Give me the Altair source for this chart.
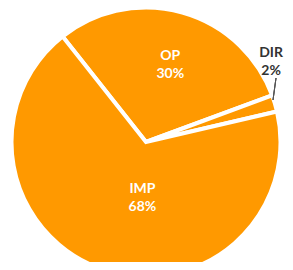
import math
import altair as alt
import pandas as pd

categories = ["OP", "DIR", "IMP"]
shares = [30, 2, 68]
order = [0, 1, 2]

df = pd.DataFrame({"cat": categories, "share": shares, "order": order})

start = math.radians(-38.3)
theta_scale = alt.Scale(domain=[0, 100], range=[start, start + 2 * math.pi])

CX, CY = 138, 134
ORANGE = "#FF9900"
FONT = "Lato"

base = alt.Chart(df).transform_calculate(
    label="datum.cat + '\\n' + datum.share + '%'"
)

arcs = base.mark_arc(radius=134.5, stroke="white", strokeWidth=4, color=ORANGE).encode(
    theta=alt.Theta("share:Q", stack=True, scale=theta_scale),
    order=alt.Order("order:Q"),
    x=alt.value(CX), y=alt.value(CY)
)


def label_layer(cat, radius, dx, dy, color):
    return base.transform_stack(
        stack="share", groupby=[], as_=["s0", "s1"], sort=[alt.SortField("order")]
    ).transform_calculate(
        mid="(datum.s0 + datum.s1) / 2"
    ).transform_filter(alt.datum.cat == cat).mark_text(
        radius=radius, dx=dx, dy=dy, font=FONT, fontWeight="bold", fontSize=14,
        lineBreak="\n", lineHeight=18, align="center", baseline="middle", color=color
    ).encode(theta=alt.Theta("mid:Q", stack=None, scale=theta_scale), text="label:N",
             x=alt.value(CX), y=alt.value(CY))


t_op = label_layer("OP", 86, 1, -3, "white")
t_imp = label_layer("IMP", 50, 13, 0, "white")
t_dir = label_layer("DIR", 140, -9, -49, "#333333")

leader = alt.Chart(df).mark_rule(color="#555555", strokeWidth=1).encode(
    x=alt.value(268), y=alt.value(70), x2=alt.value(265), y2=alt.value(92)
)

chart = alt.layer(arcs, t_op, t_imp, t_dir, leader).properties(
    width=277, height=254, padding=0, autosize=alt.AutoSizeParams(type="none"),
    background="white"
).configure_view(stroke=None)

chart.save("out.html", embed_options={"renderer": "svg", "actions": False})
